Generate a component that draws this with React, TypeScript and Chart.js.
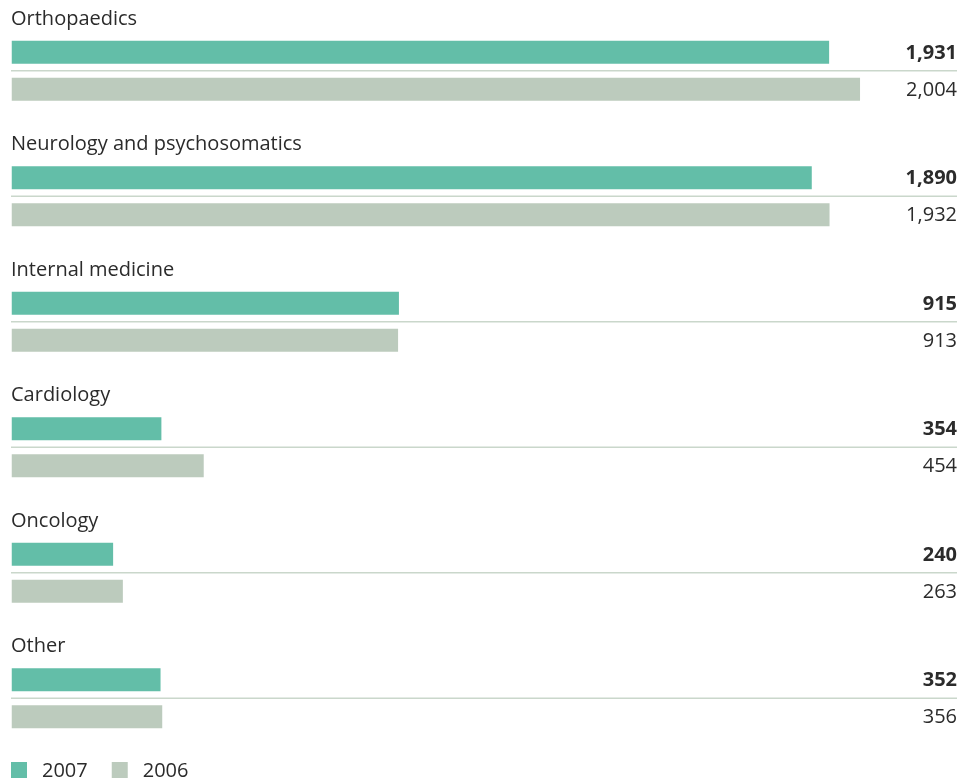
import React, { useEffect, useRef } from "react";
import { Chart, registerables } from "chart.js";

Chart.register(...registerables);

const categories = [
  "Orthopaedics",
  "Neurology and psychosomatics",
  "Internal medicine",
  "Cardiology",
  "Oncology",
  "Other",
];
const values2007 = [1931, 1890, 915, 354, 240, 352];
const values2006 = [2004, 1932, 913, 454, 263, 356];
const seriesLabels = ["2007", "2006"];

const GREEN = "#63bea8";
const GREY = "#bccbbd";
const LINE = "#cad7cb";
const TEXT = "#2b2b2b";
const FONT = "'Open Sans', 'Noto Sans', sans-serif";

const overlayPlugin = {
  id: "overlay",
  beforeDatasetsDraw(chart: any) {
    const { ctx, chartArea, scales } = chart;
    const y = scales.y;
    ctx.save();
    ctx.strokeStyle = LINE;
    ctx.lineWidth = 1.5;
    categories.forEach((_, i) => {
      const cy = y.getPixelForValue(i);
      ctx.beginPath();
      ctx.moveTo(chartArea.left - 0.5, cy);
      ctx.lineTo(chartArea.right, cy);
      ctx.stroke();
    });
    ctx.restore();
  },
  afterDatasetsDraw(chart: any) {
    const { ctx, chartArea, scales } = chart;
    const y = scales.y;
    ctx.save();
    ctx.fillStyle = TEXT;
    ctx.textBaseline = "middle";
    categories.forEach((name, i) => {
      const cy = y.getPixelForValue(i);
      ctx.font = `20px ${FONT}`;
      ctx.textAlign = "left";
      ctx.fillText(name, chartArea.left - 0.5, cy - 51.5);
    });
    chart.data.datasets.forEach((ds: any, di: number) => {
      const meta = chart.getDatasetMeta(di);
      meta.data.forEach((bar: any, i: number) => {
        ctx.font = `${di === 0 ? "bold " : ""}20px ${FONT}`;
        ctx.textAlign = "right";
        ctx.fillText(ds.data[i].toLocaleString("en-US"), chartArea.right, bar.y + 1);
      });
    });
    // legend
    const ly = chartArea.bottom + 9;
    let lx = chartArea.left - 0.5;
    ctx.font = `20px ${FONT}`;
    ctx.textAlign = "left";
    chart.data.datasets.forEach((ds: any) => {
      ctx.fillStyle = ds.backgroundColor;
      ctx.fillRect(lx, ly - 8, 16, 16);
      ctx.fillStyle = TEXT;
      ctx.fillText(ds.label, lx + 31, ly + 1.5);
      lx += 31 + ctx.measureText(ds.label).width + 24;
    });
    ctx.restore();
  },
};

export default function App() {
  const ref = useRef<HTMLCanvasElement>(null);
  useEffect(() => {
    if (!ref.current) return;
    const chart = new Chart(ref.current, {
      type: "bar",
      data: {
        labels: categories,
        datasets: [
          { label: seriesLabels[0], data: values2007, backgroundColor: GREEN },
          { label: seriesLabels[1], data: values2006, backgroundColor: GREY },
        ],
      },
      options: {
        indexAxis: "y",
        animation: false,
        responsive: false,
        maintainAspectRatio: false,
        layout: { padding: { left: 11.5, right: 13, top: 8, bottom: 19 } },
        datasets: { bar: { categoryPercentage: 0.59, barPercentage: 0.62 } },
        scales: {
          x: { display: false, min: 0, max: 2233 },
          y: { display: false },
        },
        plugins: { legend: { display: false }, tooltip: { enabled: false } },
      },
      plugins: [overlayPlugin],
    } as any);
    return () => chart.destroy();
  }, []);
  return (
    <div style={{ position: "absolute", left: 0, top: 0, width: 970, height: 780, background: "#fff" }}>
      <canvas ref={ref} width={970} height={780} style={{ display: "block" }} />
    </div>
  );
}
